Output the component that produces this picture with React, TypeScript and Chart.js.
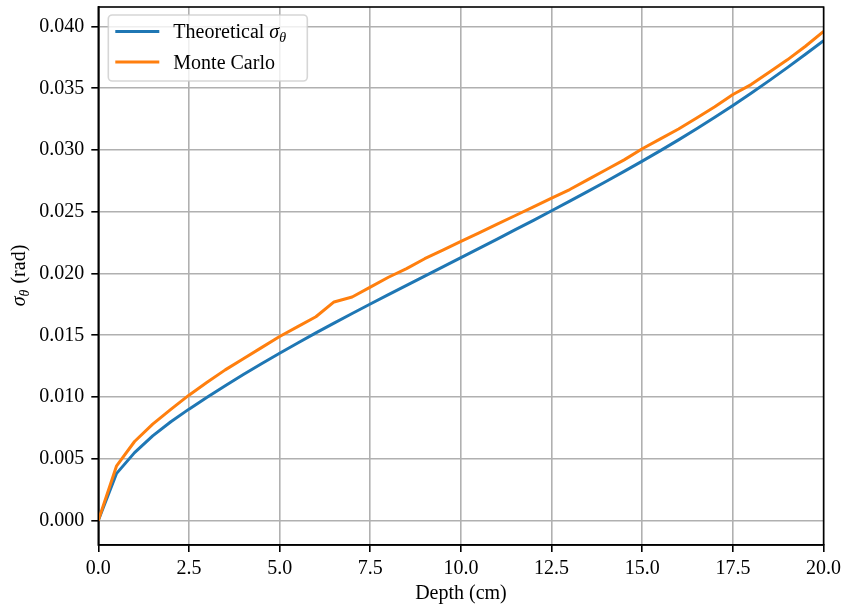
import { useEffect, useRef } from "react";
import { Chart, registerables } from "chart.js";

Chart.register(...registerables);

const DEPTH = [
  0, 0.5, 1, 1.5, 2, 2.5, 3, 3.5, 4, 4.5, 5, 5.5, 6, 6.5, 7, 7.5, 8, 8.5, 9, 9.5,
  10, 10.5, 11, 11.5, 12, 12.5, 13, 13.5, 14, 14.5, 15, 15.5, 16, 16.5, 17, 17.5,
  18, 18.5, 19, 19.5, 20,
];
const THEORETICAL = [
  0, 0.0038, 0.0055, 0.00685, 0.008, 0.00902, 0.00999, 0.01092, 0.01182, 0.0127,
  0.01355, 0.01438, 0.01519, 0.01598, 0.01676, 0.01753, 0.01829, 0.01904, 0.01979,
  0.02054, 0.02129, 0.02204, 0.02279, 0.02355, 0.02431, 0.02508, 0.02586, 0.02665,
  0.02745, 0.02827, 0.0291, 0.02995, 0.03082, 0.03172, 0.03265, 0.03361, 0.0346,
  0.03562, 0.03667, 0.03775, 0.03886,
];
const MONTE_CARLO = [
  0, 0.0044, 0.0064, 0.0078, 0.009, 0.01015, 0.0112, 0.0122, 0.0131, 0.014, 0.0149,
  0.0157, 0.0165, 0.0177, 0.0181, 0.0189, 0.0197, 0.0204, 0.0212, 0.0219, 0.0226,
  0.0233, 0.024, 0.0247, 0.0254, 0.0261, 0.0268, 0.0276, 0.0284, 0.0292, 0.0301,
  0.0309, 0.0317, 0.0326, 0.0335, 0.0345, 0.0353, 0.0363, 0.0373, 0.0384, 0.0396,
];
const X_TICKS = [0, 2.5, 5, 7.5, 10, 12.5, 15, 17.5, 20];
const Y_TICKS = [0, 0.005, 0.01, 0.015, 0.02, 0.025, 0.03, 0.035, 0.04];
const SERIES_NAMES = ["Theoretical σθ", "Monte Carlo"];
const X_TITLE = "Depth (cm)";
const Y_TITLE = "σθ (rad)";

const FAMILY = "'Liberation Serif', serif";
const FS = 20;
const BLUE = "#1f77b4";
const ORANGE = "#ff7f0e";

type Seg = { t: string; kind: "n" | "i" | "sub" };

function segments(text: string): Seg[] {
  const idx = text.indexOf("σθ");
  if (idx < 0) return [{ t: text, kind: "n" }];
  const segs: Seg[] = [
    { t: text.slice(0, idx), kind: "n" },
    { t: "σ", kind: "i" },
    { t: "θ", kind: "sub" },
    { t: text.slice(idx + 2), kind: "n" },
  ];
  return segs.filter((s) => s.t.length > 0);
}

function fontFor(kind: Seg["kind"], size: number) {
  if (kind === "i") return `italic ${size}px ${FAMILY}`;
  if (kind === "sub") return `italic ${Math.round(size * 0.7)}px ${FAMILY}`;
  return `${size}px ${FAMILY}`;
}

function drawRich(
  ctx: CanvasRenderingContext2D,
  text: string,
  x: number,
  y: number,
  size: number,
  align: "left" | "center"
) {
  const segs = segments(text);
  const widths = segs.map((s) => {
    ctx.font = fontFor(s.kind, size);
    return ctx.measureText(s.t).width;
  });
  const total = widths.reduce((a, b) => a + b, 0);
  let cx = align === "center" ? x - total / 2 : x;
  ctx.textAlign = "left";
  ctx.textBaseline = "alphabetic";
  segs.forEach((s, i) => {
    ctx.font = fontFor(s.kind, size);
    ctx.fillText(s.t, cx, y + (s.kind === "sub" ? size * 0.22 : 0));
    cx += widths[i] + (s.kind === "sub" ? 1 : 0);
  });
}

const decorPlugin = {
  id: "decor",
  afterDatasetsDraw(chart: any) {
    const { ctx, chartArea } = chart;
    ctx.save();
    ctx.strokeStyle = "black";
    ctx.lineWidth = 1.6;
    ctx.strokeRect(
      chartArea.left,
      chartArea.top,
      chartArea.right - chartArea.left,
      chartArea.bottom - chartArea.top
    );
    ctx.restore();
  },
  afterDraw(chart: any) {
    const { ctx, chartArea } = chart;
    ctx.save();
    ctx.fillStyle = "black";
    drawRich(ctx, X_TITLE, (chartArea.left + chartArea.right) / 2, 599, FS, "center");
    ctx.save();
    ctx.translate(25, (chartArea.top + chartArea.bottom) / 2);
    ctx.rotate(-Math.PI / 2);
    drawRich(ctx, Y_TITLE, 0, 0, FS, "center");
    ctx.restore();

    const bx = chartArea.left + 10;
    const by = chartArea.top + 8;
    const bw = 199;
    const bh = 66;
    ctx.beginPath();
    if ((ctx as any).roundRect) (ctx as any).roundRect(bx, by, bw, bh, 4);
    else ctx.rect(bx, by, bw, bh);
    ctx.fillStyle = "rgba(255,255,255,0.8)";
    ctx.fill();
    ctx.strokeStyle = "rgba(204,204,204,0.8)";
    ctx.lineWidth = 1.6;
    ctx.stroke();

    const colors = [BLUE, ORANGE];
    chart.data.datasets.forEach((ds: any, i: number) => {
      const ly = by + 16.5 + i * 30.6;
      ctx.beginPath();
      ctx.moveTo(bx + 7, ly);
      ctx.lineTo(bx + 51, ly);
      ctx.strokeStyle = colors[i];
      ctx.lineWidth = 3;
      ctx.stroke();
      ctx.fillStyle = "black";
      drawRich(ctx, ds.label, bx + 65, ly + 6.5, FS, "left");
    });
    ctx.restore();
  },
};

export default function App() {
  const ref = useRef<HTMLCanvasElement>(null);

  useEffect(() => {
    const yMaxData = Math.max(...MONTE_CARLO, ...THEORETICAL);
    const tickFont = { family: FAMILY, size: FS };
    const chart = new Chart(ref.current!, {
      type: "line",
      data: {
        datasets: [
          {
            label: SERIES_NAMES[0],
            data: DEPTH.map((x, i) => ({ x, y: THEORETICAL[i] })),
            borderColor: BLUE,
            backgroundColor: BLUE,
            borderWidth: 3,
            pointRadius: 0,
            tension: 0,
            borderJoinStyle: "round",
            order: 2,
          },
          {
            label: SERIES_NAMES[1],
            data: DEPTH.map((x, i) => ({ x, y: MONTE_CARLO[i] })),
            borderColor: ORANGE,
            backgroundColor: ORANGE,
            borderWidth: 3,
            pointRadius: 0,
            tension: 0,
            borderJoinStyle: "round",
            order: 1,
          },
        ],
      },
      options: {
        responsive: false,
        animation: false,
        devicePixelRatio: 1,
        layout: { padding: { top: 7, right: 17.4, left: 0, bottom: 0 } },
        plugins: {
          legend: { display: false },
          tooltip: { enabled: false },
        },
        scales: {
          x: {
            type: "linear",
            min: 0,
            max: 20,
            afterBuildTicks: (s: any) => {
              s.ticks = X_TICKS.map((v) => ({ value: v }));
            },
            afterFit: (s: any) => {
              s.height = 65;
              s.paddingLeft = 0;
              s.paddingRight = 0;
            },
            ticks: {
              callback: (v: any) => Number(v).toFixed(1),
              color: "black",
              font: tickFont,
              padding: 5,
              maxRotation: 0,
              autoSkip: false,
            },
            grid: {
              color: "#b0b0b0",
              lineWidth: 1.6,
              tickColor: "black",
              tickLength: 7,
              tickWidth: 1.6,
            },
            border: { color: "black", width: 1.6 },
          },
          y: {
            type: "linear",
            min: -0.05 * yMaxData,
            max: 1.05 * yMaxData,
            afterBuildTicks: (s: any) => {
              s.ticks = Y_TICKS.map((v) => ({ value: v }));
            },
            afterFit: (s: any) => {
              s.width = 98.3;
              s.paddingTop = 0;
              s.paddingBottom = 0;
            },
            ticks: {
              callback: (v: any) => Number(v).toFixed(3),
              color: "black",
              font: tickFont,
              padding: 7,
              autoSkip: false,
            },
            grid: {
              color: "#b0b0b0",
              lineWidth: 1.6,
              tickColor: "black",
              tickLength: 7,
              tickWidth: 1.6,
            },
            border: { color: "black", width: 1.6 },
          },
        },
      },
      plugins: [decorPlugin],
    } as any);
    return () => chart.destroy();
  }, []);

  return (
    <div
      style={{
        position: "fixed",
        left: 0,
        top: 0,
        width: 841,
        height: 610,
        background: "white",
      }}
    >
      <canvas
        ref={ref}
        width={841}
        height={610}
        style={{ display: "block", width: 841, height: 610 }}
      />
    </div>
  );
}
